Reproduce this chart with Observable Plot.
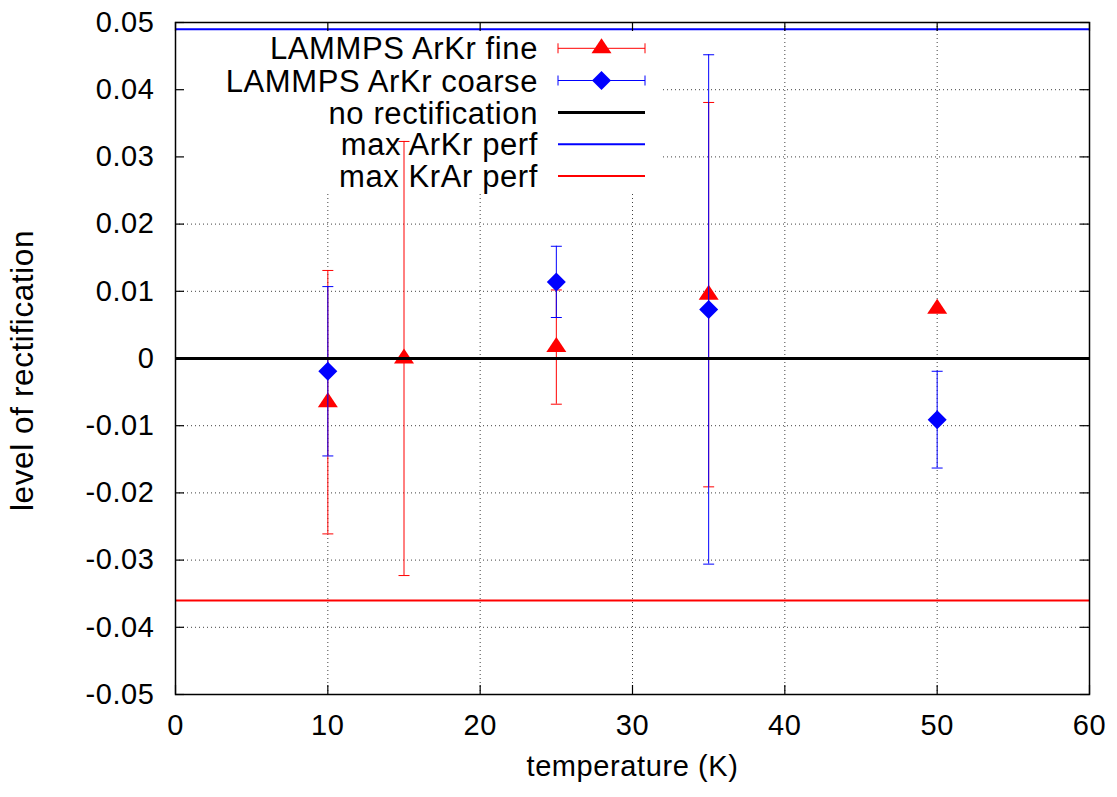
<!DOCTYPE html>
<html>
<head>
<meta charset="utf-8">
<script src="https://cdn.jsdelivr.net/npm/d3@7"></script>
<script src="https://cdn.jsdelivr.net/npm/@observablehq/plot@0.6"></script>
<style>
  html, body { margin: 0; padding: 0; background: white; }
  svg text { letter-spacing: 0.6px; }
</style>
</head>
<body>
<div id="chart"></div>
<script>
// ---- data ----
const fineTemps = [10, 15, 25, 35, 50];
const fineValues = [-0.0065, 0.0000, 0.0017, 0.0095, 0.0074];
const fineErrors = [0.0196, 0.0323, 0.0085, 0.0286, 0.0000];

const coarseTemps = [10, 25, 35, 50];
const coarseValues = [-0.0019, 0.0114, 0.0073, -0.0091];
const coarseErrors = [0.0126, 0.0053, 0.0379, 0.0072];

const noRectification = 0;
const maxArKrPerf = 0.049;
const maxKrArPerf = -0.036;

const xTicks = [0, 10, 20, 30, 40, 50, 60];
const xTickLabels = ["0", "10", "20", "30", "40", "50", "60"];
const yTicks = [-0.05, -0.04, -0.03, -0.02, -0.01, 0, 0.01, 0.02, 0.03, 0.04, 0.05];
const yTickLabels = ["-0.05", "-0.04", "-0.03", "-0.02", "-0.01", "0", "0.01", "0.02", "0.03", "0.04", "0.05"];

const seriesNames = ["LAMMPS ArKr fine", "LAMMPS ArKr coarse", "no rectification", "max ArKr perf", "max KrAr perf"];
const xLabel = "temperature (K)";
const yLabel = "level of rectification";

// ---- build tables ----
const fine = fineTemps.map((t, i) => ({t, v: fineValues[i], e: fineErrors[i]}));
const coarse = coarseTemps.map((t, i) => ({t, v: coarseValues[i], e: coarseErrors[i]}));

// ---- layout ----
const W = 1117, H = 797;
const mL = 175, mR = 28, mT = 22, mB = 103;
const plotW = W - mL - mR, plotH = H - mT - mB;
const FONT = "'Liberation Sans', Arial, Helvetica, sans-serif";
const FS = 29;
const FS_KEY = 31;
const FS_YLABEL = 31.5;

// custom symbols
const capSymbol = {draw(ctx) { ctx.moveTo(-5.5, 0); ctx.lineTo(5.5, 0); }};
const triSymbol = {draw(ctx) { ctx.moveTo(0, -10); ctx.lineTo(10, 5); ctx.lineTo(-10, 5); ctx.closePath(); }};
const diaSymbol = {draw(ctx) { ctx.moveTo(0, -9.5); ctx.lineTo(9.5, 0); ctx.lineTo(0, 9.5); ctx.lineTo(-9.5, 0); ctx.closePath(); }};

const gridStyle = {stroke: "#000", strokeOpacity: 0.75, strokeDasharray: "1,3", strokeWidth: 1};

// legend background (hides grid behind key area)
function legendBackground(index, scales, values, dims) {
  const g = d3.create("svg:g");
  g.append("rect").attr("x", dims.marginLeft).attr("y", dims.marginTop)
    .attr("width", 488).attr("height", 170).attr("fill", "white");
  return g.node();
}

function legend(index, scales, values, dims) {
  const g = d3.create("svg:g").attr("font-family", FONT).attr("font-size", FS_KEY);
  const textX = 538, x1 = 558, x2 = 645, xm = (x1 + x2) / 2;
  const rows = [48.3, 80.5, 112.5, 144.3, 176];
  const sym = d3.symbol();
  seriesNames.forEach((name, i) => {
    const y = rows[i];
    g.append("text").attr("x", textX).attr("y", y).attr("dy", "0.36em")
      .attr("text-anchor", "end").attr("fill", "black").text(name);
  });
  // fine
  let y = rows[0];
  g.append("line").attr("x1", x1).attr("x2", x2).attr("y1", y).attr("y2", y).attr("stroke", "red");
  [x1, x2].forEach(x => g.append("line").attr("x1", x).attr("x2", x).attr("y1", y - 5).attr("y2", y + 5).attr("stroke", "red"));
  g.append("path").attr("d", sym.type(triSymbol)()).attr("transform", `translate(${xm},${y})`).attr("fill", "red");
  // coarse
  y = rows[1];
  g.append("line").attr("x1", x1).attr("x2", x2).attr("y1", y).attr("y2", y).attr("stroke", "blue");
  [x1, x2].forEach(x => g.append("line").attr("x1", x).attr("x2", x).attr("y1", y - 5).attr("y2", y + 5).attr("stroke", "blue"));
  g.append("path").attr("d", sym.type(diaSymbol)()).attr("transform", `translate(${xm},${y})`).attr("fill", "blue");
  // lines
  g.append("line").attr("x1", x1).attr("x2", x2).attr("y1", rows[2]).attr("y2", rows[2]).attr("stroke", "black").attr("stroke-width", 3);
  g.append("line").attr("x1", x1).attr("x2", x2).attr("y1", rows[3]).attr("y2", rows[3]).attr("stroke", "blue").attr("stroke-width", 2);
  g.append("line").attr("x1", x1).attr("x2", x2).attr("y1", rows[4]).attr("y2", rows[4]).attr("stroke", "red").attr("stroke-width", 2);
  return g.node();
}

const chart = Plot.plot({
  width: W, height: H,
  marginLeft: mL, marginRight: mR, marginTop: mT, marginBottom: mB,
  style: {fontFamily: FONT, fontSize: FS + "px", color: "black", background: "white"},
  x: {domain: [0, 60]},
  y: {domain: [-0.05, 0.05]},
  marks: [
    // grid
    Plot.ruleX(xTicks, {x: d => d, ...gridStyle}),
    Plot.ruleY(yTicks, {y: d => d, ...gridStyle}),
    legendBackground,
    // fine series
    Plot.ruleX(fine.filter(d => d.e > 0), {x: "t", y1: d => d.v - d.e, y2: d => d.v + d.e, stroke: "red", strokeWidth: 1}),
    Plot.dot(fine.filter(d => d.e > 0), {x: "t", y: d => d.v - d.e, symbol: capSymbol, fill: "none", stroke: "red", strokeWidth: 1}),
    Plot.dot(fine.filter(d => d.e > 0), {x: "t", y: d => d.v + d.e, symbol: capSymbol, fill: "none", stroke: "red", strokeWidth: 1}),
    Plot.dot(fine, {x: "t", y: "v", symbol: triSymbol, fill: "red", stroke: "none"}),
    // coarse series
    Plot.ruleX(coarse, {x: "t", y1: d => d.v - d.e, y2: d => d.v + d.e, stroke: "blue", strokeWidth: 1}),
    Plot.dot(coarse, {x: "t", y: d => d.v - d.e, symbol: capSymbol, fill: "none", stroke: "blue", strokeWidth: 1}),
    Plot.dot(coarse, {x: "t", y: d => d.v + d.e, symbol: capSymbol, fill: "none", stroke: "blue", strokeWidth: 1}),
    Plot.dot(coarse, {x: "t", y: "v", symbol: diaSymbol, fill: "blue", stroke: "none"}),
    // reference lines
    Plot.ruleY([noRectification], {y: d => d, stroke: "black", strokeWidth: 3}),
    Plot.ruleY([maxArKrPerf], {y: d => d, stroke: "blue", strokeWidth: 2}),
    Plot.ruleY([maxKrArPerf], {y: d => d, stroke: "red", strokeWidth: 2}),
    // inward ticks on all four sides
    Plot.tickY(yTicks, {y: d => d, insetRight: plotW - 9, stroke: "black", strokeWidth: 1.2}),
    Plot.tickY(yTicks, {y: d => d, insetLeft: plotW - 9, stroke: "black", strokeWidth: 1.2}),
    Plot.tickX(xTicks, {x: d => d, insetTop: plotH - 9, stroke: "black", strokeWidth: 1.2}),
    Plot.tickX(xTicks, {x: d => d, insetBottom: plotH - 9, stroke: "black", strokeWidth: 1.2}),
    Plot.frame({stroke: "black", strokeWidth: 1.5}),
    // axes
    Plot.axisX({ticks: xTicks, tickSize: 0, tickPadding: 20, tickFormat: d => xTickLabels[xTicks.indexOf(d)], label: null, fontSize: FS}),
    Plot.axisY({ticks: yTicks, tickSize: 0, tickPadding: 21, tickFormat: d => yTickLabels[yTicks.indexOf(d)], label: null, fontSize: FS}),
    // axis titles
    Plot.text([xLabel], {text: d => d, frameAnchor: "bottom", lineAnchor: "top", dy: 61, fontSize: FS, fill: "black"}),
    Plot.text([yLabel], {text: d => d, frameAnchor: "left", textAnchor: "middle", rotate: -90, lineAnchor: "middle", dx: -153, dy: 12, fontSize: FS_YLABEL, fill: "black"}),
    legend
  ]
});

document.getElementById("chart").appendChild(chart);
</script>
</body>
</html>
